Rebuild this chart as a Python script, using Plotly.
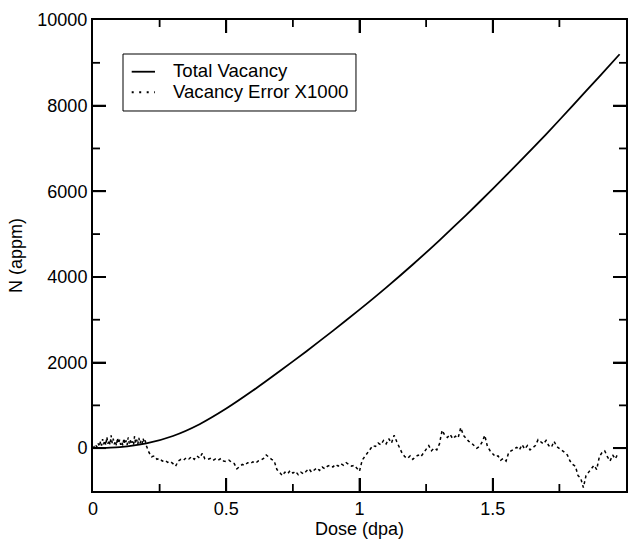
import plotly.graph_objects as go

# Total vacancy curve
total_dose = [0.0, 0.1, 0.2, 0.3, 0.4, 0.5, 0.6, 0.7, 0.8, 0.9, 1.0, 1.1, 1.2, 1.3,
              1.4, 1.5, 1.6, 1.7, 1.8, 1.9, 1.976]
total_vac = [0, 25, 110, 285, 560, 925, 1345, 1795, 2260, 2740, 3235, 3750, 4290, 4855,
             5445, 6055, 6685, 7330, 8000, 8680, 9200]

# Vacancy error x1000: early part sampled every 0.004 dpa (0 - 0.196)
err_early = [
    0, 30, -10, 60, 20, 110, 40, 150, 60, 210,
    90, 180, 70, 260, 100, 190, 80, 300, 120, 220,
    90, 170, 60, 240, 110, 200, 80, 150, 60, 230,
    100, 180, 70, 250, 110, 190, 90, 160, 70, 280,
    120, 200, 90, 240, 110, 170, 100, 230, 130, 180,
]
# later part sampled every 0.01 dpa (0.20 - 1.97)
err_late = [
    60, -100, -200, -180, -260, -240, -300, -280, -330, -310,
    -360, -420, -300, -260, -280, -220, -250, -200, -260, -180,
    -230, -120, -250, -260, -240, -290, -250, -280, -240, -300,
    -310, -280, -330, -360, -480, -420, -380, -400, -340, -360,
    -320, -350, -300, -280, -240, -160, -220, -260, -300, -500,
    -560, -640, -560, -600, -520, -580, -540, -620, -560, -600,
    -540, -480, -560, -500, -460, -520, -440, -480, -420, -400,
    -440, -380, -420, -360, -400, -340, -380, -420, -400, -460,
    -540, -280, -200, -120, -40, 60, 40, 120, 80, 180,
    100, 220, 120, 300, 150, 20, -120, -200, -240, -180,
    -260, -200, -160, -200, -120, -40, 60, -60, 0, -40,
    100, 420, 300, 250, 320, 220, 280, 240, 480, 300,
    220, 160, 120, 60, 0, 40, 140, 300, 40, -60,
    -120, -200, -180, -280, -240, -300, -100, -60, -20, 20,
    -40, 80, -20, 60, -40, 20, 60, 200, 140, 100,
    180, 60, 20, 160, 40, 0, -60, -100, -160, -300,
    -380, -420, -640, -700, -920, -640, -560, -480, -400, -500,
    -200, -100, -60, -200, -300, -160, -250, -120,
]
err_dose = ([round(i * 0.004, 4) for i in range(len(err_early))]
            + [round(0.20 + i * 0.01, 4) for i in range(len(err_late))])
err_vals = err_early + err_late

legend_labels = ["Total Vacancy", "Vacancy Error X1000"]

x_range = [0, 2]
y_range = [-1000, 10000]
x_major_ticks = [0.5, 1.0, 1.5]
x_minor_ticks = [0.25, 0.75, 1.25, 1.75]
y_major_ticks = [0, 2000, 4000, 6000, 8000]
y_minor_ticks = [1000, 3000, 5000, 7000, 9000]

FONT = "Liberation Sans, Arial, sans-serif"
W, H = 631, 539
M = dict(l=93, r=5, t=20, b=48)
plot_w = W - M["l"] - M["r"]
plot_h = H - M["t"] - M["b"]
MAJOR_LEN, MINOR_LEN = 13, 7


def x_frac(v):
    return (v - x_range[0]) / (x_range[1] - x_range[0])


def y_frac(v):
    return (v - y_range[0]) / (y_range[1] - y_range[0])


fig = go.Figure()
fig.add_trace(go.Scatter(
    x=total_dose, y=total_vac, mode="lines", name=legend_labels[0],
    line=dict(color="black", width=1.8, shape="spline", smoothing=0.6),
    showlegend=False,
))
fig.add_trace(go.Scatter(
    x=err_dose, y=err_vals, mode="lines", name=legend_labels[1],
    line=dict(color="black", width=1.5, dash="dot"),
    showlegend=False,
))

axis_common = dict(
    showline=True, linecolor="black", linewidth=2, mirror="ticks",
    ticks="inside", ticklen=MAJOR_LEN, tickwidth=1.5, tickcolor="black",
    showgrid=False, zeroline=False, automargin=False,
    tickfont=dict(family=FONT, size=18, color="black"),
)

fig.update_xaxes(
    range=x_range, tickmode="linear", tick0=0, dtick=0.5,
    title=dict(text="Dose (dpa)", font=dict(family=FONT, size=18, color="black"), standoff=10),
    **axis_common,
)
fig.update_yaxes(
    range=y_range, tickmode="linear", tick0=0, dtick=2000, tickformat="d",
    title=dict(text="N (appm)", font=dict(family=FONT, size=18, color="black"), standoff=10),
    **axis_common,
)

# Inside tick marks on all four sides (major and minor), placed in plot-area fractions
tick_line = dict(color="black", width=1.8)
for vals, length in ((x_major_ticks, MAJOR_LEN), (x_minor_ticks, MINOR_LEN)):
    f = length / plot_h
    for v in vals:
        xf = x_frac(v)
        fig.add_shape(type="line", xref="paper", yref="paper", x0=xf, x1=xf, y0=0, y1=f,
                      line=tick_line, layer="above")
        fig.add_shape(type="line", xref="paper", yref="paper", x0=xf, x1=xf, y0=1, y1=1 - f,
                      line=tick_line, layer="above")
for vals, length in ((y_major_ticks, MAJOR_LEN), (y_minor_ticks, MINOR_LEN)):
    f = length / plot_w
    for v in vals:
        yf = y_frac(v)
        fig.add_shape(type="line", xref="paper", yref="paper", x0=0, x1=f, y0=yf, y1=yf,
                      line=tick_line, layer="above")
        fig.add_shape(type="line", xref="paper", yref="paper", x0=1, x1=1 - f, y0=yf, y1=yf,
                      line=tick_line, layer="above")

# Legend drawn as a framed box with sample lines and text
fig.add_shape(type="rect", xref="paper", yref="paper",
              x0=0.0563, x1=0.4934, y0=0.8068, y1=0.9278,
              line=dict(color="black", width=1), fillcolor="white", layer="above")
fig.add_shape(type="line", xref="paper", yref="paper",
              x0=0.0726, x1=0.1163, y0=0.8902, y1=0.8902,
              line=dict(color="black", width=1.8), layer="above")
fig.add_shape(type="line", xref="paper", yref="paper",
              x0=0.0726, x1=0.1163, y0=0.8466, y1=0.8466,
              line=dict(color="black", width=2, dash="2px,5.5px"), layer="above")
fig.add_annotation(xref="paper", yref="paper", x=0.1463, y=0.8930,
                   xanchor="left", yanchor="middle", showarrow=False,
                   text=legend_labels[0], font=dict(family=FONT, size=18.6, color="black"))
fig.add_annotation(xref="paper", yref="paper", x=0.1463, y=0.8490,
                   xanchor="left", yanchor="middle", showarrow=False,
                   text=legend_labels[1], font=dict(family=FONT, size=18.6, color="black"))

fig.update_layout(
    width=W, height=H, margin=M,
    paper_bgcolor="white", plot_bgcolor="white",
    showlegend=False,
)

fig.write_html("out.html")
